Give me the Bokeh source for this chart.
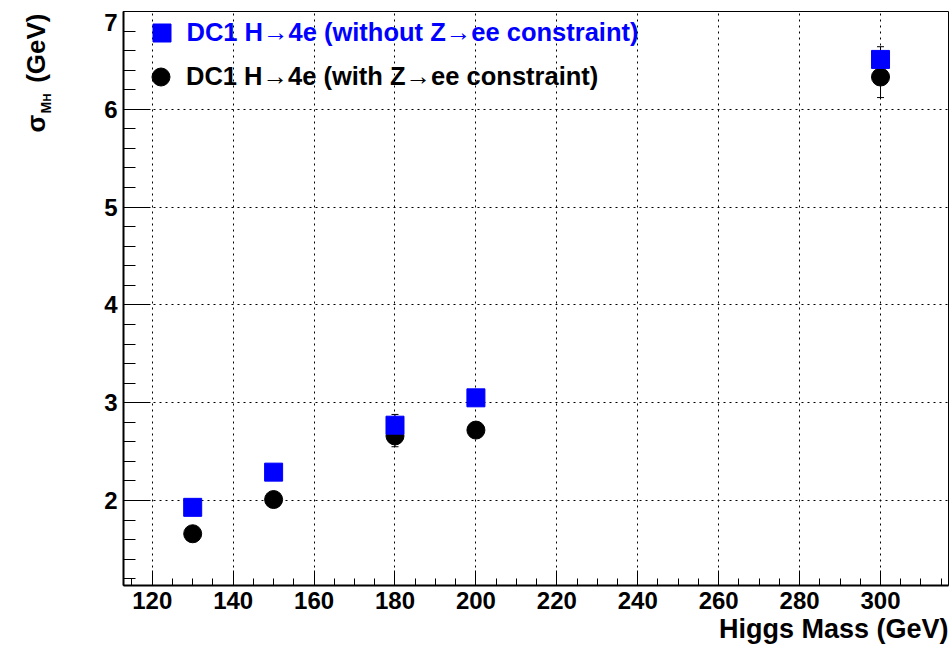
import math
from bokeh.plotting import figure
from bokeh.layouts import row
from bokeh.models import (Range1d, SingleIntervalTicker, ColumnDataSource, Whisker,
                          TeeHead, Legend, LegendItem, Title)
from bokeh.core.properties import value
from bokeh.embed import file_html
from bokeh.resources import INLINE

# Higgs mass points (GeV) and mass resolution sigma_MH (GeV)
mass = [130, 150, 180, 200, 300]
sigma_noZ = [1.93, 2.29, 2.77, 3.05, 6.51]
err_noZ = [0.05, 0.06, 0.11, 0.07, 0.13]
sigma_Z = [1.66, 2.01, 2.66, 2.72, 6.33]
err_Z = [0.05, 0.06, 0.11, 0.07, 0.21]

y_ticks = [2, 3, 4, 5, 6, 7]

label_noZ = "DC1 H\u21924e (without Z\u2192ee constraint)"
label_Z = "DC1 H\u21924e (with Z\u2192ee constraint)"

FONT = "Liberation Sans"
H = 650
LEFT_W = 121                 # strip holding the y labels and y title
TOP, BOTTOM = 11, 65         # space above / below the frame
Y0, Y1 = 1.131, 7.0
X0, X1 = 112.9, 316.8

y_range = Range1d(Y0, Y1)

# ---------------- main plot ----------------
p = figure(width=950 - LEFT_W, height=H, output_backend="svg", toolbar_location=None,
           x_range=Range1d(X0, X1), y_range=y_range,
           min_border_left=2, min_border_right=2, min_border_top=TOP, min_border_bottom=BOTTOM)
p.background_fill_color = "white"
p.border_fill_color = "white"
p.outline_line_color = "black"
p.outline_line_width = 1

p.xaxis.ticker = SingleIntervalTicker(interval=20, num_minor_ticks=4)
p.yaxis.ticker = SingleIntervalTicker(interval=1, num_minor_ticks=5)
for ax in (p.xaxis[0], p.yaxis[0]):
    ax.axis_line_color = "black"
    ax.axis_line_width = 2
    ax.major_tick_line_color = "black"
    ax.minor_tick_line_color = "black"
    ax.major_tick_out = 0
    ax.minor_tick_out = 0
    ax.major_label_text_font = FONT
    ax.major_label_text_font_style = "bold"
    ax.major_label_text_font_size = "24px"
    ax.major_label_text_color = "black"
p.xaxis.major_tick_in = 15
p.xaxis.minor_tick_in = 7
p.yaxis.major_tick_in = 27
p.yaxis.minor_tick_in = 12
p.xaxis.major_label_standoff = 6
# the y tick labels live in the left strip, so the axis itself draws none
p.yaxis.major_label_text_color = None
p.yaxis.major_label_text_font_size = "0px"
p.yaxis.major_label_standoff = 0

for g in (p.xgrid[0], p.ygrid[0]):
    g.grid_line_color = "black"
    g.grid_line_width = 1
    g.grid_line_dash = "2 4"

src_noZ = ColumnDataSource(dict(x=mass, y=sigma_noZ,
                                lo=[v - e for v, e in zip(sigma_noZ, err_noZ)],
                                hi=[v + e for v, e in zip(sigma_noZ, err_noZ)]))
src_Z = ColumnDataSource(dict(x=mass, y=sigma_Z,
                              lo=[v - e for v, e in zip(sigma_Z, err_Z)],
                              hi=[v + e for v, e in zip(sigma_Z, err_Z)]))

# error bars beneath the markers
for src in (src_Z, src_noZ):
    p.add_layout(Whisker(base="x", lower="lo", upper="hi", source=src, level="underlay",
                         line_color="black", line_width=1,
                         lower_head=TeeHead(size=7, line_color="black", line_width=1),
                         upper_head=TeeHead(size=7, line_color="black", line_width=1)))

r_Z = p.scatter("x", "y", source=src_Z, marker="circle", size=18,
                fill_color="black", line_color="black")
r_noZ = p.scatter("x", "y", source=src_noZ, marker="square", size=18,
                  fill_color="#0000ff", line_color="#0000ff")

# legend: one entry per box so each label keeps its own colour
for r, lab, col, loc in ((r_noZ, label_noZ, "#0000ff", (15.5, 530.5)),
                         (r_Z, label_Z, "black", (15, 486.5))):
    p.add_layout(Legend(items=[LegendItem(label=lab, renderers=[r])], location=loc,
                        glyph_width=45, glyph_height=45, label_standoff=3,
                        padding=0, margin=0, spacing=0,
                        border_line_alpha=0, background_fill_alpha=0,
                        label_text_font=FONT, label_text_font_style="bold",
                        label_text_font_size="25.5px", label_text_color=col))

# x-axis title, right-aligned under the axis
p.add_layout(Title(text="Higgs Mass (GeV)", align="right",
                   text_font=FONT, text_font_style="bold", text_font_size="27px",
                   text_color="black", standoff=0, offset=0), "below")

# ---------------- left strip: y tick labels and y title ----------------
# its frame lines up with the main frame, so it shares the y range
lp = figure(width=LEFT_W, height=H, output_backend="svg", toolbar_location=None,
            x_range=Range1d(0, LEFT_W), y_range=y_range,
            x_axis_location=None, y_axis_location=None,
            min_border_left=0, min_border_right=0, min_border_top=TOP, min_border_bottom=BOTTOM)
lp.outline_line_color = None
lp.background_fill_color = "white"
lp.border_fill_color = "white"
lp.grid.grid_line_color = None
lp.extra_y_ranges = {"px": Range1d(H - BOTTOM, TOP)}   # pixel rows counted from the top

# tick labels, the top one nudged down to stay on the page
lp.text(x=[117] * len(y_ticks), y=y_ticks, text=[str(t) for t in y_ticks],
        y_offset=[11 if t == max(y_ticks) else 0 for t in y_ticks],
        text_align="right", text_baseline="middle",
        text_font=value(FONT), text_font_style="bold", text_font_size="24px",
        text_color="black")

# sigma_{M_H} (GeV), reading upwards
ang = math.pi / 2
for txt, xs, ys, size, align in (("(GeV)", 35, 13, "26px", "right"),
                                 ("\u03c3", 35, 132, "26px", "left"),
                                 ("M", 45, 113, "14px", "left"),
                                 ("H", 46, 101, "11px", "left")):
    lp.text(x=[xs], y=[ys], text=[txt], angle=ang, y_range_name="px",
            text_align=align, text_baseline="alphabetic",
            text_font=value(FONT), text_font_style="bold", text_font_size=size,
            text_color="black")

layout = row(lp, p)
open("out.html", "w").write(file_html(layout, INLINE))
